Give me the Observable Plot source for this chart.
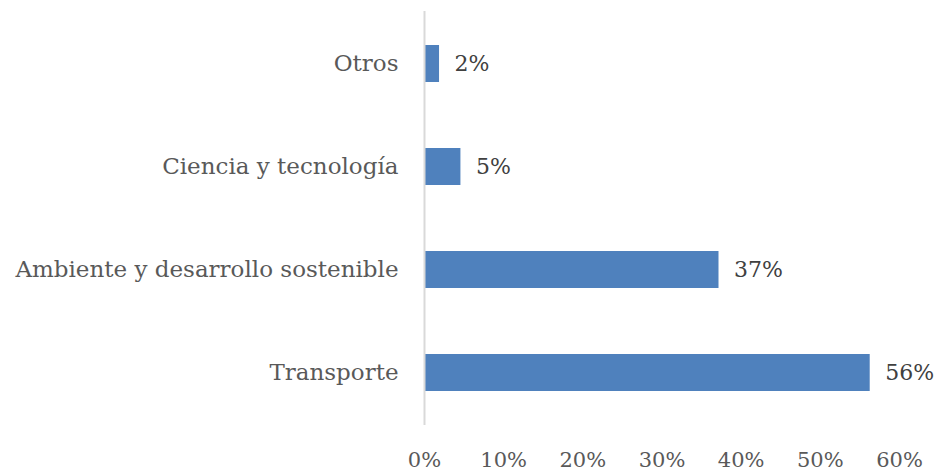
<!DOCTYPE html>
<html>
<head>
<meta charset="utf-8">
<script src="https://cdn.jsdelivr.net/npm/d3@7"></script>
<script src="https://cdn.jsdelivr.net/npm/@observablehq/plot@0.6"></script>
<style>
  html, body { margin: 0; padding: 0; background: #fff; }
</style>
</head>
<body>
<div id="chart"></div>
<script>
const categories = ["Otros", "Ciencia y tecnología", "Ambiente y desarrollo sostenible", "Transporte"];
const values = [0.019, 0.046, 0.372, 0.563];
const valueLabels = ["2%", "5%", "37%", "56%"];
const xTicks = [0, 0.1, 0.2, 0.3, 0.4, 0.5, 0.6];
const xTickLabels = ["0%", "10%", "20%", "30%", "40%", "50%", "60%"];

const data = categories.map((c, i) => ({category: c, value: values[i], label: valueLabels[i]}));
const FONT = "'DejaVu Serif', serif";

const chart = Plot.plot({
  width: 935,
  height: 474,
  marginLeft: 424,
  marginRight: 36,
  marginTop: 11,
  marginBottom: 49,
  style: {fontFamily: FONT, fontSize: "22px", background: "#fff"},
  x: {domain: [0, 0.6]},
  y: {domain: categories, paddingInner: 0.64, paddingOuter: 0.32},
  marks: [
    Plot.barX(data, {x: "value", y: "category", fill: "#4f81bd"}),
    Plot.ruleX([0], {stroke: "#d9d9d9", strokeWidth: 2}),
    Plot.text(data, {x: "value", y: "category", text: "label", textAnchor: "start", dx: 15, fill: "#404040", fontSize: 22}),
    Plot.axisX({ticks: xTicks, tickFormat: (d) => xTickLabels[xTicks.indexOf(d)], tickSize: 0, tickPadding: 27, fill: "#595959", fontSize: 21, label: null}),
    Plot.axisY({tickSize: 0, tickPadding: 26, fill: "#595959", fontSize: 23, label: null})
  ]
});
document.getElementById("chart").appendChild(chart);
</script>
</body>
</html>
